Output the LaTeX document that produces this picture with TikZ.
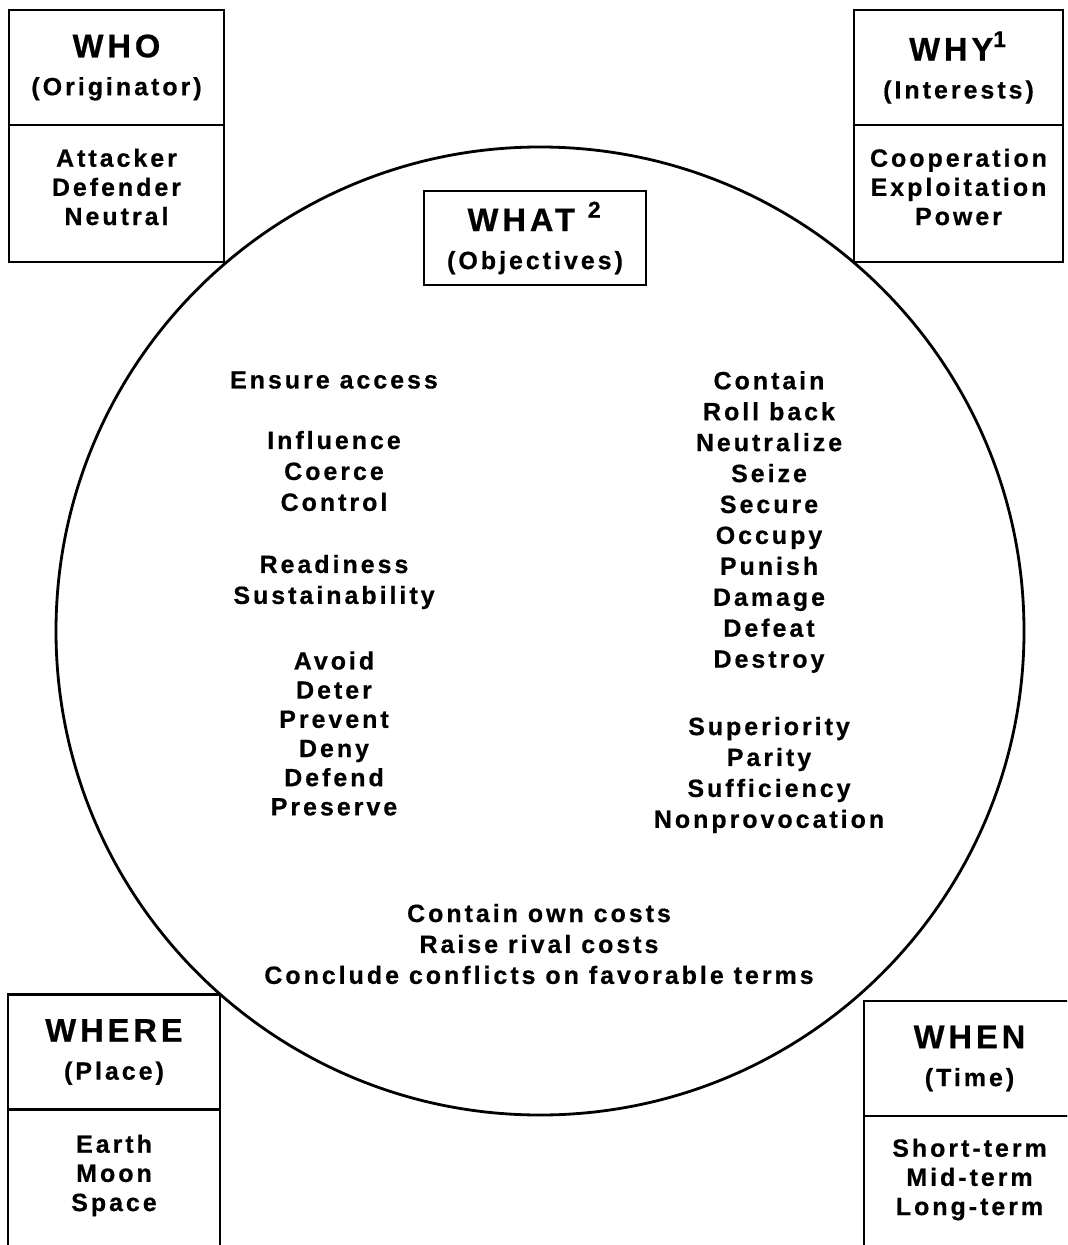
\documentclass[tikz,border=0pt]{standalone}
\usepackage{fontspec}
\setmainfont{Liberation Sans}[LetterSpace=12, BoldFeatures={FakeBold=0.6}]
\usetikzlibrary{positioning}

\newcommand{\headfont}{\fontsize{7.1}{10.8}\selectfont\bfseries}
\newcommand{\bigfont}{\fontsize{9.3}{10.8}\selectfont}
\newcommand{\listfont}{\fontsize{7.1}{8.3}\selectfont\bfseries}
\newcommand{\circfont}{\fontsize{7.1}{8.8}\selectfont\bfseries}

\begin{document}
\begin{tikzpicture}[
    line width=0.8pt,
    headbox/.style={draw, fill=white, minimum width=#1, minimum height=1.15cm, inner sep=0pt, outer sep=0pt, align=center, font=\headfont},
    listbox/.style={draw, fill=white, minimum width=#1, inner sep=0pt, outer sep=0pt, text depth=3.8pt, align=center, font=\listfont},
    objtext/.style={align=center, inner sep=0pt, font=\circfont}
  ]
  \useasboundingbox (0,0) rectangle (10.67,-12.45);
  \clip (0,0) rectangle (10.67,-12.45);

  % the big circle
  \coordinate (mid) at (5.40,-6.31);
  \draw (mid) circle (4.84);

  % corner boxes
  \node[headbox=2.15cm] (who) at (1.165,-0.675) {{\bigfont WHO}\\(Originator)};
  \node[listbox=2.15cm, minimum height=1.37cm, below=0pt of who] (whoList) {Attacker\\Defender\\Neutral};
  \node[headbox=2.09cm] (why) at (9.585,-0.675) {{\bigfont WHY\textsuperscript{1}}\\(Interests)};
  \node[listbox=2.09cm, minimum height=1.37cm, below=0pt of why] (whyList) {Cooperation\\Exploitation\\Power};
  \node[headbox=2.12cm] (where) at (1.14,-10.52) {{\bigfont WHERE}\\(Place)};
  \node[listbox=2.12cm, minimum height=1.40cm, below=0pt of where] (whereList) {Earth\\Moon\\Space};
  \node[headbox=2.11cm] (when) at (9.695,-10.585) {{\bigfont WHEN}\\(Time)};
  \node[listbox=2.11cm, minimum height=1.35cm, below=0pt of when] (whenList) {Short-term\\Mid-term\\Long-term};

  % objectives
  \node[draw, fill=white, minimum width=2.22cm, minimum height=0.94cm, inner sep=0pt, align=center, font=\headfont] (what) at (5.35,-2.38) {{\bigfont WHAT \textsuperscript{2}}\\(Objectives)};
  \node[objtext] (ensure) at (3.34,-3.80) {Ensure access};
  \node[objtext] (influence) at (3.34,-4.71) {Influence\\Coerce\\Control};
  \node[objtext] (readiness) at (3.34,-5.82) {Readiness\\Sustainability};
  \node[objtext, font=\listfont] (avoid) at (3.34,-7.335) {Avoid\\Deter\\Prevent\\Deny\\Defend\\Preserve};
  \node[objtext] (contain) at (7.69,-5.22) {Contain\\Roll back\\Neutralize\\Seize\\Secure\\Occupy\\Punish\\Damage\\Defeat\\Destroy};
  \node[objtext] (superiority) at (7.69,-7.75) {Superiority\\Parity\\Sufficiency\\Nonprovocation};
  \node[objtext] (costs) at (5.39,-9.44) {Contain own costs\\Raise rival costs\\Conclude conflicts on favorable terms};
\end{tikzpicture}
\end{document}
